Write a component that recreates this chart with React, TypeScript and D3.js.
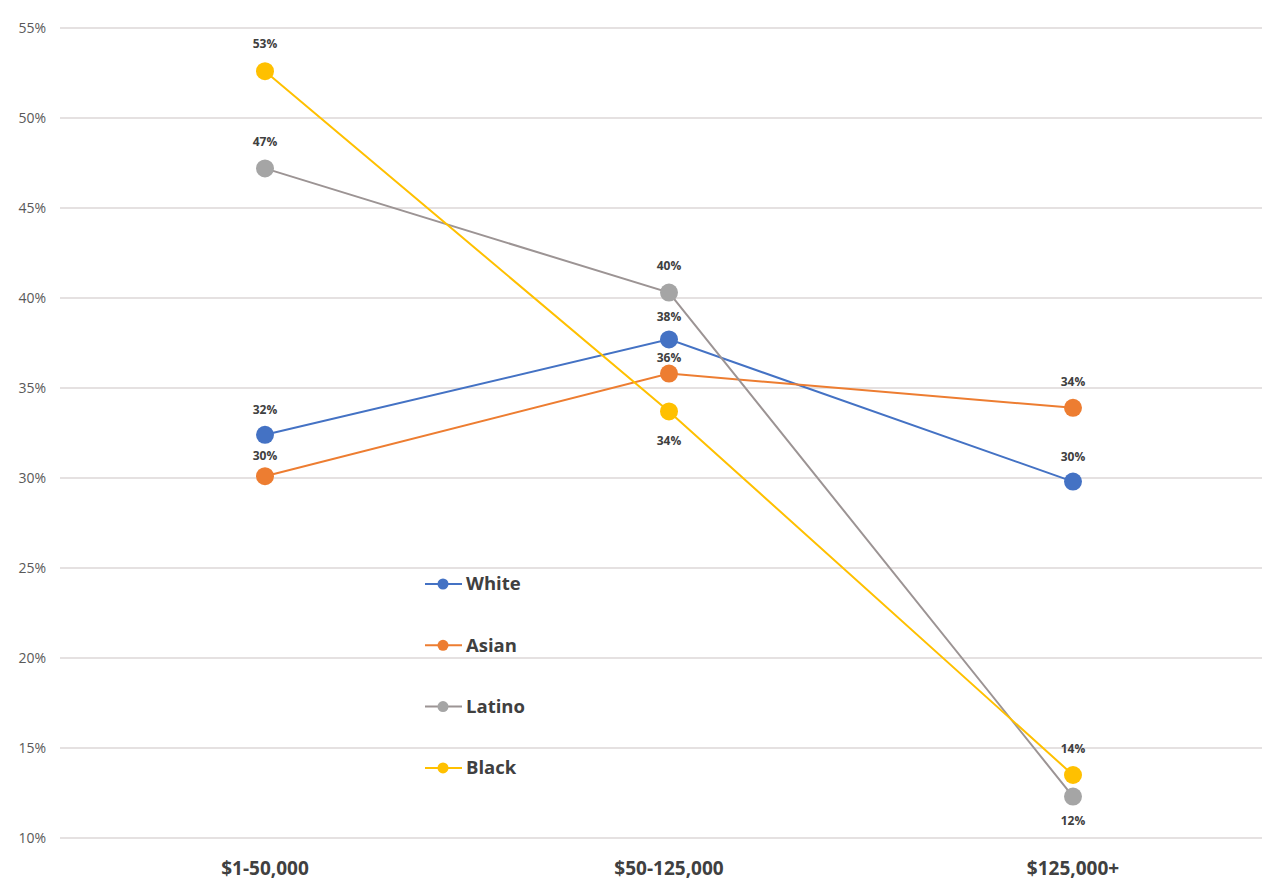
import React from "react";
import * as d3 from "d3";

const categories = ["$1-50,000", "$50-125,000", "$125,000+"];
const seriesNames = ["White", "Asian", "Latino", "Black"];
const whiteValues = [32.4, 37.7, 29.8];
const asianValues = [30.1, 35.8, 33.9];
const latinoValues = [47.2, 40.3, 12.3];
const blackValues = [52.6, 33.7, 13.5];
const dataLabels = [
  ["32%", "38%", "30%"],
  ["30%", "36%", "34%"],
  ["47%", "40%", "12%"],
  ["53%", "34%", "14%"],
];
const yTicks = [10, 15, 20, 25, 30, 35, 40, 45, 50, 55];

const seriesValues = [whiteValues, asianValues, latinoValues, blackValues];
const lineColors = ["#4472C4", "#ED7D31", "#9c9494", "#FFC000"];
const markerColors = ["#4472C4", "#ED7D31", "#A5A5A5", "#FFC000"];
// label offsets (dy) per series per point
const labelDy = [
  [-25, -23, -25],
  [-20, -16, -26],
  [-27, -27, 24],
  [-27, 29, -26],
];

export default function App() {
  const W = 1265;
  const H = 881;
  const x = d3.scalePoint<string>().domain(categories).range([265, 1073]);
  const y = d3.scaleLinear().domain([10, 55]).range([838, 28]);
  const line = d3
    .line<number>()
    .x((_, i) => x(categories[i]) as number)
    .y((d) => y(d));
  const font = "'Open Sans', 'Noto Sans', sans-serif";

  return (
    <svg
      width={W}
      height={H}
      style={{ position: "absolute", left: 0, top: 0, background: "#fff" }}
      fontFamily={font}
    >
      {yTicks.map((t) => (
        <g key={t}>
          <line x1={60} x2={1262} y1={y(t)} y2={y(t)} stroke="#ddd7d7" strokeWidth={1.5} />
          <text x={46} y={y(t)} dy="0.35em" textAnchor="end" fontSize={14} fill="#595959">
            {t}%
          </text>
        </g>
      ))}
      {categories.map((c) => (
        <text
          key={c}
          x={x(c) as number}
          y={868}
          dy="0.35em"
          textAnchor="middle"
          fontSize={19}
          fontWeight="bold"
          fill="#404040"
        >
          {c}
        </text>
      ))}
      {seriesValues.map((vals, si) => (
        <path key={si} d={line(vals) || ""} fill="none" stroke={lineColors[si]} strokeWidth={2} />
      ))}
      {seriesValues.map((vals, si) =>
        vals.map((v, i) => (
          <circle
            key={`${si}-${i}`}
            cx={x(categories[i]) as number}
            cy={y(v)}
            r={9}
            fill={markerColors[si]}
          />
        ))
      )}
      {seriesValues.map((vals, si) =>
        vals.map((v, i) => (
          <text
            key={`l${si}-${i}`}
            x={x(categories[i]) as number}
            y={y(v) + labelDy[si][i]}
            dy="0.35em"
            textAnchor="middle"
            fontSize={12}
            fontWeight="bold"
            fill="#404040"
          >
            {dataLabels[si][i]}
          </text>
        ))
      )}
      {seriesNames.map((name, si) => {
        const ly = 584 + si * 61.3;
        return (
          <g key={name}>
            <line x1={425} x2={462} y1={ly} y2={ly} stroke={lineColors[si]} strokeWidth={2} />
            <circle cx={443} cy={ly} r={5.5} fill={markerColors[si]} />
            <text x={466} y={ly} dy="0.35em" fontSize={18.5} fontWeight="bold" fill="#404040">
              {name}
            </text>
          </g>
        );
      })}
    </svg>
  );
}
